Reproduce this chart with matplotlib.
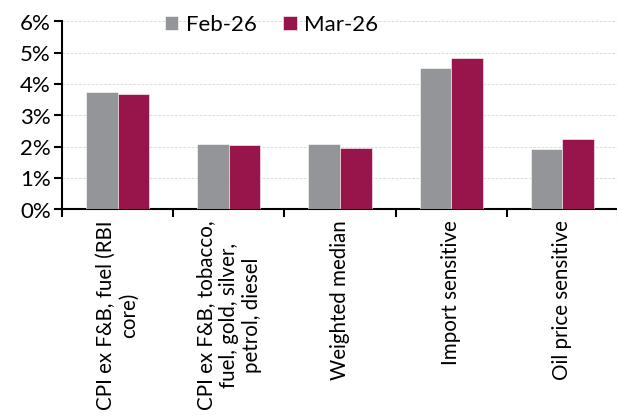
import numpy as np
import matplotlib.pyplot as plt
from matplotlib.ticker import PercentFormatter

categories = ['CPI ex F&B, fuel (RBI\ncore)',
              'CPI ex F&B, tobacco,\nfuel, gold, silver,\npetrol, diesel',
              'Weighted median',
              'Import sensitive',
              'Oil price sensitive']
feb_26 = [3.76, 2.09, 2.10, 4.53, 1.93]
mar_26 = [3.68, 2.06, 1.96, 4.83, 2.25]

GREY = '#939598'
MAROON = '#98154b'

plt.rcParams['font.family'] = ['Lato', 'DejaVu Sans']

fig = plt.figure(figsize=(6.17, 4.19), dpi=100)
ax = fig.add_axes([62 / 617, 1 - 209.5 / 419, 556 / 617, 188 / 419])

x = np.arange(len(categories))
w = 0.285
ax.bar(x - w / 2, feb_26, w, color=GREY, edgecolor='white', linewidth=0.4, label='Feb-26', zorder=3)
ax.bar(x + w / 2, mar_26, w, color=MAROON, edgecolor='white', linewidth=0.4, label='Mar-26', zorder=3)

ax.set_xlim(-0.5, len(categories) - 0.5)
ax.set_ylim(0, 6)
ax.set_yticks(range(7))
ax.yaxis.set_major_formatter(PercentFormatter(decimals=0))
ax.grid(axis='y', color='#d4d4d4', linestyle=(0, (3, 2)), linewidth=0.6, zorder=0)

# category ticks sit between the groups, labels in the middle
ax.set_xticks(np.arange(len(categories) + 1) - 0.5)
ax.set_xticklabels([])
ax.set_xticks(x, minor=True)
ax.set_xticklabels(categories, minor=True, rotation=90, fontsize=14.8,
                   va='top', ha='center', multialignment='center')
ax.tick_params(axis='x', which='minor', length=0, pad=8)
ax.tick_params(axis='x', which='major', length=6, width=1.5, direction='out')
ax.tick_params(axis='y', length=6, width=1.5, direction='out', labelsize=16, pad=2)

for side in ['top', 'right']:
    ax.spines[side].set_visible(False)
for side in ['left', 'bottom']:
    ax.spines[side].set_linewidth(1.5)

ax.legend(loc='upper center', bbox_to_anchor=(0.377, 1.14), ncol=2, frameon=False,
          fontsize=16, handlelength=0.6, handleheight=0.6, handletextpad=0.35,
          columnspacing=1.2)

fig.savefig('out.png', dpi=100)
